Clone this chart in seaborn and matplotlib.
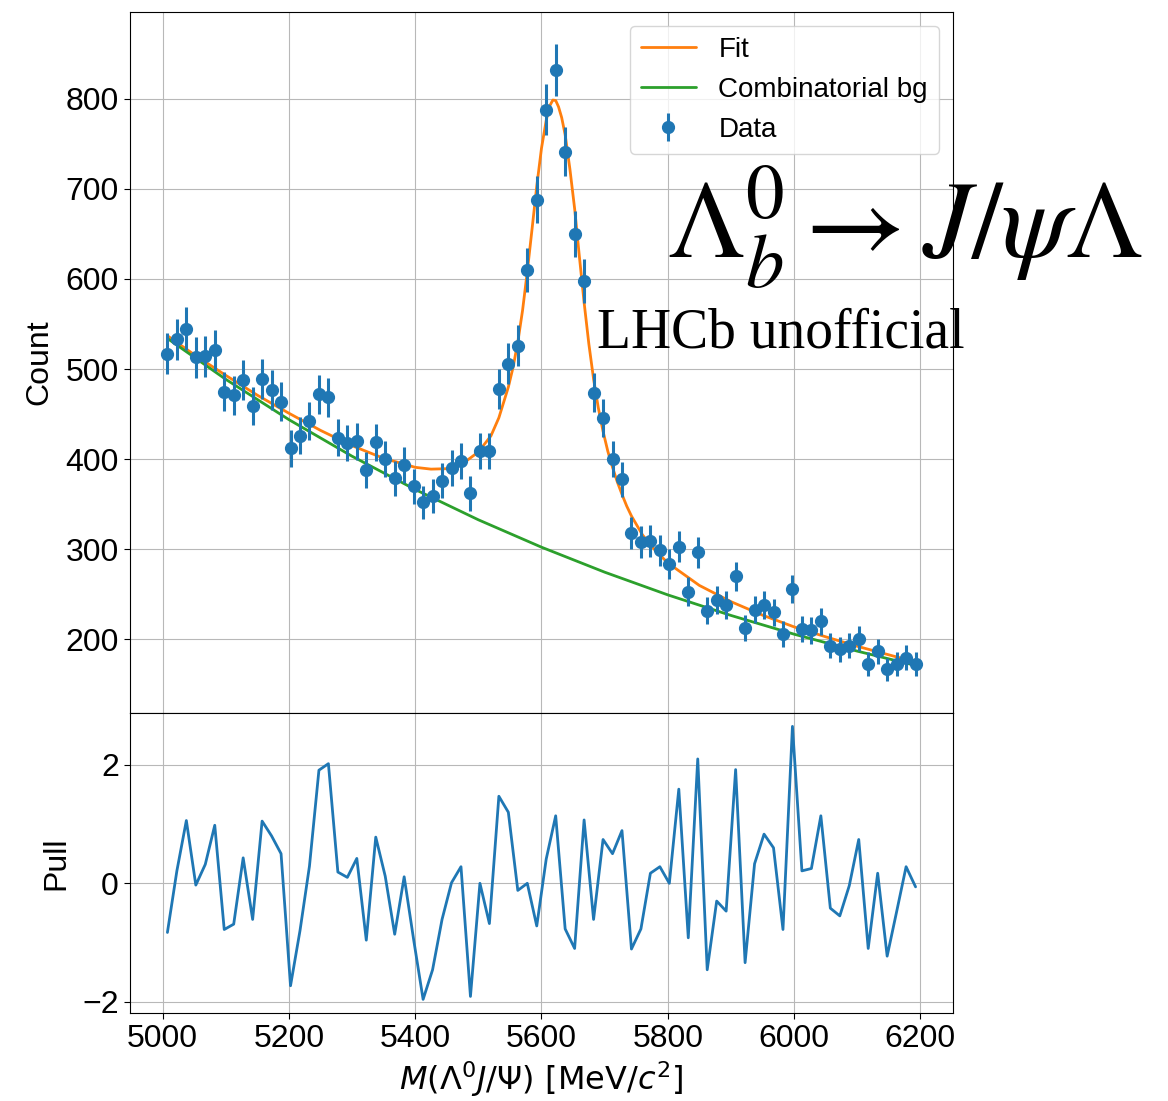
import numpy as np
import matplotlib
matplotlib.use("Agg")
import matplotlib.pyplot as plt
import seaborn as sns

# ---------------- data ----------------
bin_centers = [5007.5 + 15 * i for i in range(80)]
counts = [517, 533, 545, 513, 514, 521, 475, 471, 488, 459,
          489, 477, 464, 412, 426, 442, 472, 469, 424, 418,
          420, 388, 419, 400, 379, 394, 370, 352, 359, 376,
          390, 398, 362, 409, 409, 478, 506, 526, 610, 688,
          788, 832, 741, 650, 598, 474, 446, 400, 378, 318,
          308, 309, 299, 284, 303, 253, 297, 232, 244, 238,
          270, 213, 233, 238, 230, 206, 256, 212, 210, 220,
          193, 189, 193, 201, 173, 187, 167, 173, 180, 173]
pulls = [-0.83, 0.21, 1.06, -0.03, 0.32, 0.98, -0.78, -0.69, 0.43, -0.61,
         1.05, 0.80, 0.50, -1.73, -0.80, 0.29, 1.91, 2.02, 0.19, 0.10,
         0.42, -0.96, 0.78, 0.12, -0.86, 0.11, -0.95, -1.96, -1.46, -0.61,
         0.01, 0.28, -1.91, 0.00, -0.68, 1.47, 1.20, -0.12, 0.00, -0.72,
         0.41, 1.14, -0.77, -1.10, 1.07, -0.61, 0.74, 0.50, 0.89, -1.11,
         -0.77, 0.17, 0.28, 0.00, 1.59, -0.92, 2.10, -1.46, -0.30, -0.47,
         1.92, -1.34, 0.33, 0.83, 0.60, -0.78, 2.65, 0.21, 0.25, 1.14,
         -0.42, -0.55, -0.04, 0.74, -1.10, 0.17, -1.23, -0.48, 0.28, -0.06]

fit_x = [5007.5, 5050, 5100, 5150, 5200, 5250, 5300, 5350, 5400, 5425,
         5450, 5475, 5500, 5520, 5532.5, 5547.5, 5555, 5562.5, 5570, 5577.5,
         5585, 5592.5, 5600, 5607.5, 5613, 5618, 5622.5, 5627, 5632, 5637.5,
         5645, 5652.5, 5660, 5667.5, 5675, 5682.5, 5690, 5697.5, 5705, 5712.5,
         5720, 5727.5, 5735, 5742.5, 5760, 5780, 5800, 5850, 5900, 5950,
         6000, 6050, 6100, 6150, 6192.5]
fit_y = [537, 516, 493, 471, 451, 432, 415, 401, 391, 389,
         389.5, 395, 408, 426, 446, 480, 502, 530, 565, 608,
         655, 703, 745, 776, 792, 798.5, 798, 791, 779, 760,
         722, 678, 625, 574, 528, 489, 457, 431, 409, 391,
         375, 361, 348, 337, 316, 299, 285, 260, 242, 227,
         214, 203, 192.5, 183, 175]

bg_x = [5007.5, 5100, 5200, 5300, 5400, 5500, 5600, 5700, 5800, 5900,
        6000, 6100, 6192.5]
bg_y = [534, 488.6, 443.9, 403.3, 366.4, 332.8, 302.4, 274.7, 249.5, 226.7,
        205.9, 187.1, 171.2]

xticks = [5000, 5200, 5400, 5600, 5800, 6000, 6200]
count_ticks = [200, 300, 400, 500, 600, 700, 800]
pull_ticks = [-2, 0, 2]

# ---------------- style ----------------
sns.set_style("whitegrid", rc={
    "axes.edgecolor": "black",
    "axes.linewidth": 1.2,
    "axes.labelcolor": "black",
    "text.color": "black",
    "grid.color": "#b8b8b8",
    "grid.linewidth": 1.4,
    "xtick.bottom": True,
    "ytick.left": True,
    "xtick.color": "black",
    "ytick.color": "black",
    "xtick.direction": "out",
    "ytick.direction": "out",
})
plt.rcParams["font.family"] = ["Liberation Sans", "DejaVu Sans"]
plt.rcParams["mathtext.fontset"] = "dejavusans"
plt.rcParams["xtick.major.size"] = 4.5
plt.rcParams["ytick.major.size"] = 4.5
plt.rcParams["text.color"] = "black"
plt.rcParams["axes.labelcolor"] = "black"

blue, orange, green = "#1f77b4", "#ff7f0e", "#2ca02c"

fig, (ax, axp) = plt.subplots(
    2, 1, figsize=(11.68, 11.01), dpi=100, sharex=True,
    gridspec_kw={"height_ratios": [7, 3], "hspace": 0.0})
fig.subplots_adjust(left=0.1113, right=0.8159, top=0.9891, bottom=0.0799)

sns.lineplot(x=fit_x, y=fit_y, ax=ax, color=orange, lw=2.0, label="Fit")
sns.lineplot(x=bg_x, y=bg_y, ax=ax, color=green, lw=2.0, label="Combinatorial bg")
ax.errorbar(bin_centers, counts, yerr=np.sqrt(counts), fmt="o", color=blue,
            ms=8.5, elinewidth=2.2, label="Data")

ax.set_yticks(count_ticks)
ax.set_ylabel("Count", fontsize=23, labelpad=8)
ax.tick_params(axis="both", labelsize=23)
leg = ax.legend(loc="upper right", fontsize=20)
for t in leg.get_texts():
    t.set_color("black")

ax.text(0.6525, 0.649, r"$\Lambda_b^0 \rightarrow J/\psi\Lambda$",
        transform=ax.transAxes, fontsize=79, math_fontfamily="stix",
        color="black", ha="left", va="baseline", clip_on=False)
ax.text(0.5674, 0.5207, "LHCb unofficial", transform=ax.transAxes,
        fontsize=40, family="Liberation Serif", color="black",
        ha="left", va="baseline", clip_on=False)

sns.lineplot(x=bin_centers, y=pulls, ax=axp, color=blue, lw=2.0)
axp.set_yticks(pull_ticks)
axp.set_xticks(xticks)
axp.set_ylabel("Pull", fontsize=23, labelpad=8)
axp.set_xlabel(r"$M(\Lambda^0 J/\Psi)\ [\mathrm{MeV}/c^2]$", fontsize=23)
axp.tick_params(axis="both", labelsize=23)

for a in (ax, axp):
    for s in a.spines.values():
        s.set_visible(True)
        s.set_color("black")

fig.savefig("out.png", dpi=100)
